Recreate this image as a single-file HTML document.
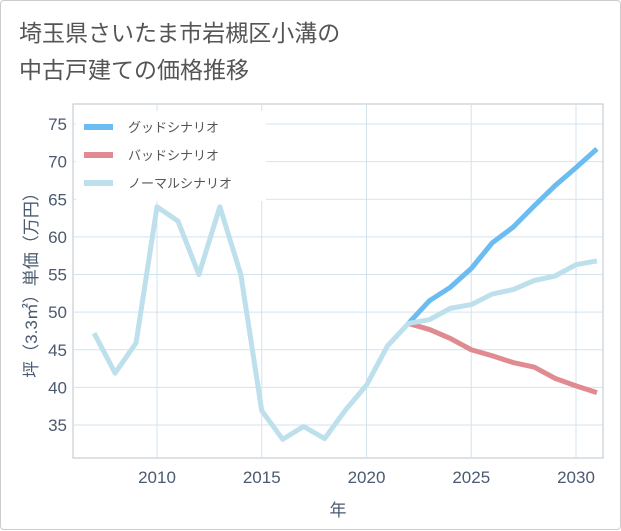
<!DOCTYPE html>
<html><head><meta charset="utf-8"><style>
body{margin:0;background:#fff;font-family:"Liberation Sans","Noto Sans CJK JP",sans-serif;}
#card{position:absolute;left:0;top:0;width:619px;height:528px;border:1px solid #ccc;border-radius:4px;background:#fff;}
#title{position:absolute;left:18px;top:14px;font-size:23px;line-height:37px;color:#555;}
</style></head><body>
<div id="card">
<div id="title">埼玉県さいたま市岩槻区小溝の<br>中古戸建ての価格推移</div>
<svg id="chart" width="621" height="530" style="position:absolute;left:0;top:0"></svg>
</div>
<script>
const years=[2007,2008,2009,2010,2011,2012,2013,2014,2015,2016,2017,2018,2019,2020,2021,2022,2023,2024,2025,2026,2027,2028,2029,2030,2031];
const normalVals=[47.2,41.9,45.9,64,62.1,55,64,55,36.9,33.1,34.8,33.2,37,40.3,45.5,48.5,49,50.5,51,52.4,53,54.2,54.8,56.3,56.8];
const futureYears=[2022,2023,2024,2025,2026,2027,2028,2029,2030,2031];
const goodVals=[48.5,51.5,53.3,55.8,59.2,61.3,64.1,66.8,69.2,71.7];
const badVals=[48.5,47.7,46.5,45,44.2,43.3,42.7,41.2,40.2,39.3];
const yTicks=[35,40,45,50,55,60,65,70,75];
const xTicks=[2010,2015,2020,2025,2030];
const ns="http://www.w3.org/2000/svg";
const svg=document.getElementById('chart');
const L=72,R=602,T=103,B=457;
const x=v=>156+(v-2010)*(575-156)/20;
const y=v=>424-(v-35)*(424-123)/40;
function mk(t,a){const e=document.createElementNS(ns,t);for(const k in a)e.setAttribute(k,a[k]);svg.appendChild(e);return e;}
const frame=mk('rect',{x:L,y:T,width:R-L,height:B-T,fill:'#fff',stroke:'#b8c4cc'});


yTicks.forEach(v=>{
 const g=mk('line',{x1:L,x2:R,y1:y(v),y2:y(v),stroke:'#d3e3ee','stroke-width':1});
 
 
 const t=mk('text',{x:L-6,y:y(v)+6,'text-anchor':'end','font-size':17,fill:'#4a5a70'});
 t.textContent=v;
 
 
});
xTicks.forEach(v=>{
 const g=mk('line',{x1:x(v),x2:x(v),y1:T,y2:B,stroke:'#d3e3ee','stroke-width':1});
 
 
 const t=mk('text',{x:x(v),y:B+25,'text-anchor':'middle','font-size':17,fill:'#4a5a70'});
 t.textContent=v;
 
 
});
function line(xs,vs,c,name){
 const p=mk('polyline',{points:xs.map((a,i)=>x(a)+','+y(vs[i])).join(' '),fill:'none',stroke:c,'stroke-width':5,'stroke-linejoin':'round'});
 
 
}
line(futureYears,badVals,'#e08a92','bad-scenario-line');
line(futureYears,goodVals,'#6bbcf0','good-scenario-line');
line(years,normalVals,'#bde0ec','normal-scenario-line');
const lb=mk('rect',{x:75,y:110,width:190,height:90,fill:'#fff'});


[['グッドシナリオ','#6bbcf0'],['バッドシナリオ','#e08a92'],['ノーマルシナリオ','#bde0ec']].forEach((d,i)=>{
 const yy=126+i*28;
 const s=mk('line',{x1:83,x2:112,y1:yy,y2:yy,stroke:d[1],'stroke-width':6});
 
 
 const t=mk('text',{x:127,y:yy+5,'font-size':13,fill:'#555'});
 t.textContent=d[0];
 
 
});
const yt=mk('text',{x:0,y:0,'font-size':17,fill:'#4a5a70','text-anchor':'middle',transform:'translate(36,280) rotate(-90)'});
yt.textContent='坪（3.3㎡）単価（万円）';


const xt=mk('text',{x:337,y:515,'font-size':17,fill:'#4a5a70','text-anchor':'middle'});
xt.textContent='年';


</script>
</body></html>
